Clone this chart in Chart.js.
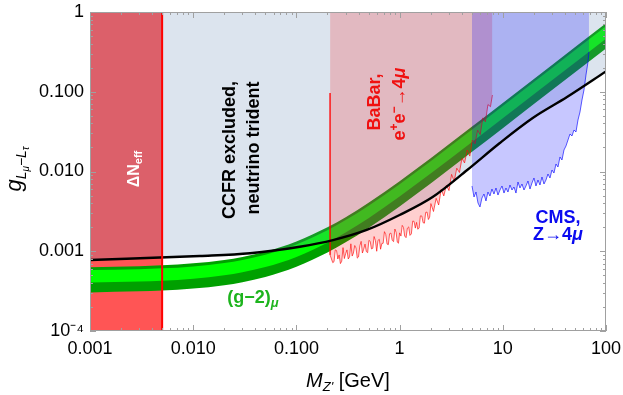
<!DOCTYPE html>
<html lang="en">
<head>
<meta charset="UTF-8">
<title>L_mu - L_tau Z' limits</title>
<style>
  html, body { margin: 0; padding: 0; background: #fff; }
  #wrap { width: 623px; height: 395px; }
</style>
</head>
<body>
<div id="wrap"><canvas id="chart" width="623" height="395"></canvas></div>
<script src="https://cdn.jsdelivr.net/npm/chart.js@4.4.0/dist/chart.umd.min.js"></script>
<script>
  // --- values (mass in GeV, coupling g) ---
  const xTickExp = [-3, -2, -1, 0, 1, 2];
  const xTickLabels = ['0.001', '0.010', '0.100', '1', '10', '100'];
  const yTickExp = [-4, -3, -2, -1, 0];
  const yTickLabels = ['10⁻⁴', '0.001', '0.010', '0.100', '1'];

  // Delta N_eff excluded strip
  const neffMass = [0.001, 0.005];
  const neffTop = [1, 1];

  // (g-2)_mu band
  const bandMass = [0.001, 0.003, 0.005, 0.01, 0.02, 0.03, 0.05, 0.1, 0.2, 0.3, 0.5, 1, 2, 5, 10, 30, 100];
  const bandOuterTop = [6.32e-4, 6.50e-4, 6.66e-4, 7.05e-4, 7.79e-4, 8.50e-4, 9.87e-4, 1.325e-3, 1.998e-3, 2.678e-3, 4.06e-3, 7.57e-3, 1.467e-2, 3.63e-2, 7.24e-2, 0.217, 0.722];
  const bandInnerTop = [5.80e-4, 5.96e-4, 6.10e-4, 6.46e-4, 7.14e-4, 7.79e-4, 9.06e-4, 1.216e-3, 1.833e-3, 2.457e-3, 3.72e-3, 6.94e-3, 1.346e-2, 3.33e-2, 6.64e-2, 0.199, 0.662];
  const bandInnerBottom = [4.05e-4, 4.17e-4, 4.27e-4, 4.52e-4, 4.99e-4, 5.45e-4, 6.33e-4, 8.50e-4, 1.282e-3, 1.718e-3, 2.60e-3, 4.85e-3, 9.41e-3, 2.33e-2, 4.64e-2, 0.139, 0.463];
  const bandOuterBottom = [3.05e-4, 3.14e-4, 3.21e-4, 3.40e-4, 3.76e-4, 4.10e-4, 4.77e-4, 6.40e-4, 9.65e-4, 1.293e-3, 1.96e-3, 3.65e-3, 7.08e-3, 1.75e-2, 3.49e-2, 0.105, 0.349];

  // CCFR (neutrino trident) bound, black curve
  const ccfrMass = [0.001, 0.0116, 0.0356, 0.108, 0.226, 0.48, 1.0, 2.09, 4.52, 9.36, 19.5, 41.9, 100];
  const ccfrG = [7.77e-4, 8.72e-4, 9.43e-4, 1.14e-3, 1.38e-3, 1.85e-3, 2.85e-3, 4.79e-3, 1.045e-2, 2.28e-2, 4.69e-2, 8.59e-2, 0.18];

  // BaBar e+e- -> 4mu
  const babarMass = [0.212, 0.212, 0.225, 0.2315, 0.238, 0.245, 0.252, 0.2595, 0.267, 0.275, 0.283, 0.2915, 0.30, 0.309, 0.318, 0.3275,
    0.337, 0.347, 0.357, 0.3675, 0.378, 0.389, 0.40, 0.412, 0.424, 0.436, 0.449, 0.4625, 0.476, 0.49, 0.504, 0.519, 0.534, 0.55,
    0.566, 0.583, 0.60, 0.618, 0.636, 0.654, 0.673, 0.693, 0.713, 0.734, 0.756, 0.778, 0.80, 0.824, 0.848, 0.874, 0.90, 0.925,
    0.95, 0.975, 1.0, 1.03, 1.06, 1.09, 1.12, 1.155, 1.19, 1.225, 1.26, 1.30, 1.34, 1.38, 1.42, 1.46, 1.50, 1.545, 1.59, 1.64,
    1.69, 1.74, 1.79, 1.845, 1.90, 1.955, 2.01, 2.13, 2.26, 2.39, 2.53, 2.68, 2.84, 3.01, 3.19, 3.38, 3.58, 3.80, 4.02, 4.26,
    4.52, 4.79, 5.07, 5.38, 5.70, 6.04, 6.40, 6.78, 7.18, 7.60, 7.93];
  const babarG = [0.0964, 9.0e-4, 7.2e-4, 7.4e-4, 1.04e-3, 1.02e-3, 8.0e-4, 9.0e-4, 7.0e-4, 7.5e-4, 1.11e-3, 8.1e-4, 9.3e-4, 1.04e-3, 8.0e-4, 8.5e-4,
    1.24e-3, 8.7e-4, 9.5e-4, 1.18e-3, 1.10e-3, 8.2e-4, 8.5e-4, 1.17e-3, 1.33e-3, 9.5e-4, 1.06e-3, 1.23e-3, 9.9e-4, 9.6e-4, 1.37e-3, 1.33e-3, 1.07e-3, 1.09e-3,
    1.53e-3, 1.36e-3, 1.0e-3, 1.37e-3, 1.41e-3, 1.06e-3, 1.25e-3, 1.26e-3, 1.76e-3, 1.62e-3, 1.23e-3, 1.21e-3, 1.66e-3, 1.69e-3, 1.37e-3, 1.32e-3, 1.90e-3, 1.73e-3,
    1.30e-3, 1.26e-3, 1.70e-3, 1.55e-3, 2.11e-3, 1.99e-3, 1.55e-3, 1.48e-3, 1.95e-3, 2.02e-3, 1.58e-3, 1.65e-3, 2.39e-3, 2.37e-3, 1.95e-3, 2.30e-3, 1.89e-3, 1.95e-3, 2.78e-3, 2.77e-3,
    2.28e-3, 2.25e-3, 3.07e-3, 3.10e-3, 2.5e-3, 2.67e-3, 3.96e-3, 3.15e-3, 4.61e-3, 3.80e-3, 5.96e-3, 4.94e-3, 6.72e-3, 5.76e-3, 9.2e-3, 7.5e-3, 1.10e-2, 9.7e-3, 1.46e-2, 1.28e-2,
    1.86e-2, 1.56e-2, 2.48e-2, 2.23e-2, 3.29e-2, 2.9e-2, 4.7e-2, 4.2e-2, 6.9e-2, 6.5e-2, 9.1e-2];

  // CMS Z -> 4mu
  const cmsMass = [5.03, 5.26, 5.50, 5.75, 6.01, 6.28, 6.57, 6.87, 7.18, 7.51, 7.85, 8.21, 8.59, 8.98, 9.39, 9.82, 10.27, 10.73, 11.22, 11.74,
    12.27, 12.83, 13.42, 14.03, 14.67, 15.34, 16.04, 16.77, 17.54, 18.34, 19.17, 20.05, 20.96, 21.92, 22.92, 23.97, 25.06, 26.20, 27.40, 28.65,
    29.96, 31.33, 32.76, 34.25, 35.81, 37.45, 39.16, 40.94, 42.81, 44.77, 46.81, 48.95, 51.18, 53.52, 55.96, 58.51, 61.18, 63.98, 66.90, 68.4];
  const cmsG = [6.58e-3, 4.79e-3, 5.53e-3, 4.03e-3, 3.59e-3, 4.65e-3, 5.22e-3, 4.27e-3, 5.53e-3, 4.93e-3, 6.03e-3, 5.22e-3, 6.21e-3, 5.07e-3, 5.86e-3, 6.58e-3, 5.37e-3, 6.21e-3, 5.53e-3, 6.77e-3,
    5.86e-3, 6.39e-3, 5.37e-3, 7.38e-3, 6.21e-3, 6.97e-3, 5.86e-3, 6.58e-3, 7.60e-3, 6.03e-3, 7.17e-3, 8.29e-3, 6.58e-3, 7.82e-3, 6.77e-3, 8.53e-3, 6.97e-3, 7.82e-3, 9.30e-3, 8.29e-3,
    1.044e-2, 9.57e-3, 1.242e-2, 1.139e-2, 1.520e-2, 1.394e-2, 1.861e-2, 2.088e-2, 2.483e-2, 2.953e-2, 2.787e-2, 3.315e-2, 3.13e-2, 4.42e-2, 5.57e-2, 7.88e-2, 0.1052, 0.1622, 0.236, 0.315];

  // BBN line position
  const neffEdge = [0.005, 0.005];
  const neffEdgeG = [1e-4, 1];

  const FONT = '"Liberation Sans", Arial, Helvetica, sans-serif';
  const pts = (xs, ys) => xs.map((x, i) => ({ x, y: ys[i] }));

  const decadeLabel = (v, exps, labels) => {
    const l = Math.log10(v);
    const r = Math.round(l);
    if (Math.abs(l - r) > 1e-6) return '';
    const i = exps.indexOf(r);
    return i < 0 ? '' : labels[i];
  };

  const datasets = [
    { label: 'dNeff', data: pts(neffMass, neffTop), fill: 'start', backgroundColor: '#ff5555', borderWidth: 0, order: 9 },
    { label: 'g2 outer', data: pts(bandMass, bandOuterTop), fill: 2, backgroundColor: '#00a000', borderWidth: 0, cubicInterpolationMode: 'monotone', order: 8 },
    { label: 'g2 outer low', data: pts(bandMass, bandOuterBottom), fill: false, borderWidth: 0, cubicInterpolationMode: 'monotone', order: 8 },
    { label: 'g2 inner', data: pts(bandMass, bandInnerTop), fill: 4, backgroundColor: '#00ff00', borderWidth: 0, cubicInterpolationMode: 'monotone', order: 7 },
    { label: 'g2 inner low', data: pts(bandMass, bandInnerBottom), fill: false, borderWidth: 0, cubicInterpolationMode: 'monotone', order: 7 },
    { label: 'CCFR', data: pts(ccfrMass, ccfrG), fill: 'end', backgroundColor: 'rgba(99,134,179,0.224)', borderWidth: 0, cubicInterpolationMode: 'monotone', order: 6 },
    { label: 'BaBar', data: pts(babarMass, babarG), fill: 'end', backgroundColor: 'rgba(255,0,0,0.19)', borderColor: 'rgba(255,0,0,0.9)', borderWidth: 0.7, order: 5 },
    { label: 'CMS', data: pts(cmsMass, cmsG), fill: 'end', backgroundColor: 'rgba(0,0,255,0.22)', borderColor: 'rgba(0,0,255,0.8)', borderWidth: 0.8, order: 4 },
    { label: 'CCFR line', data: pts(ccfrMass, ccfrG), fill: false, borderColor: '#000', borderWidth: 2.4, cubicInterpolationMode: 'monotone', order: 1 },
    { label: 'BBN edge', data: pts(neffEdge, neffEdgeG), fill: false, borderColor: '#ff0000', borderWidth: 2, order: 0 }
  ];

  // draws rich text (sub/superscripts), centred on (x, y) along the baseline
  function rich(ctx, parts, x, y, angle) {
    ctx.save();
    ctx.translate(x, y);
    ctx.rotate(angle || 0);
    ctx.textAlign = 'left';
    ctx.textBaseline = 'alphabetic';
    let total = 0;
    parts.forEach(p => { ctx.font = p.f; p.w = ctx.measureText(p.t).width; total += p.w; });
    let cx = -total / 2;
    parts.forEach(p => {
      ctx.font = p.f;
      ctx.fillText(p.t, cx, p.dy || 0);
      cx += p.w;
    });
    ctx.restore();
  }

  const frameAndText = {
    id: 'frameAndText',
    afterDatasetsDraw(chart) {
      const { ctx, chartArea: a, scales: { x, y } } = chart;
      ctx.save();

      // frame with inward ticks on all four sides
      ctx.strokeStyle = '#a0a0a0';
      ctx.lineWidth = 1;
      ctx.strokeRect(a.left + 0.5, a.top + 0.5, a.right - a.left - 1, a.bottom - a.top - 1);
      ctx.beginPath();
      for (let d = -3; d <= 2; d++) {
        for (let k = 1; k <= 9; k++) {
          const v = k * Math.pow(10, d);
          if (v > 100.0001) break;
          const px = Math.round(x.getPixelForValue(v)) + 0.5;
          const len = k === 1 ? 6 : 3;
          ctx.moveTo(px, a.bottom); ctx.lineTo(px, a.bottom - len);
          ctx.moveTo(px, a.top); ctx.lineTo(px, a.top + len);
        }
      }
      for (let d = -4; d <= 0; d++) {
        for (let k = 1; k <= 9; k++) {
          const v = k * Math.pow(10, d);
          if (v > 1.0001) break;
          const py = Math.round(y.getPixelForValue(v)) + 0.5;
          const len = k === 1 ? 6 : 3;
          ctx.moveTo(a.left, py); ctx.lineTo(a.left + len, py);
          ctx.moveTo(a.right, py); ctx.lineTo(a.right - len, py);
        }
      }
      ctx.stroke();

      const up = -Math.PI / 2;
      const B18 = 'bold 18px ' + FONT;

      // Delta N_eff
      ctx.fillStyle = '#ffffff';
      rich(ctx, [
        { t: 'ΔN', f: 'bold 16px ' + FONT },
        { t: 'eff', f: 'bold 11px ' + FONT, dy: 3 }
      ], 139, 169, up);

      // CCFR
      ctx.fillStyle = '#000000';
      rich(ctx, [{ t: 'CCFR excluded,', f: B18 }], 235, 150, up);
      rich(ctx, [{ t: 'neutrino trident', f: B18 }], 259, 148, up);

      // BaBar
      ctx.fillStyle = '#f01010';
      rich(ctx, [{ t: 'BaBar,', f: B18 }], 380, 102, up);
      rich(ctx, [
        { t: 'e', f: B18 },
        { t: '+', f: 'bold 12px ' + FONT, dy: -7 },
        { t: 'e', f: B18 },
        { t: '−', f: 'bold 12px ' + FONT, dy: -7 },
        { t: '→4', f: B18 },
        { t: 'μ', f: 'italic bold 18px ' + FONT }
      ], 405, 104, up);

      // CMS
      ctx.fillStyle = '#0a0af0';
      rich(ctx, [{ t: 'CMS,', f: B18 }], 558, 223, 0);
      rich(ctx, [
        { t: 'Z→4', f: B18 },
        { t: 'μ', f: 'italic bold 18px ' + FONT }
      ], 558, 240, 0);

      // (g-2)_mu
      ctx.fillStyle = '#1db41d';
      rich(ctx, [
        { t: '(g−2)', f: B18 },
        { t: 'μ', f: 'italic bold 13px ' + FONT, dy: 4 }
      ], 253, 303, 0);

      // axis titles
      ctx.fillStyle = '#000000';
      rich(ctx, [
        { t: 'g', f: 'italic 22px ' + FONT },
        { t: 'L', f: 'italic 14px ' + FONT, dy: 5 },
        { t: 'μ', f: 'italic 10px ' + FONT, dy: 8 },
        { t: '−', f: '14px ' + FONT, dy: 5 },
        { t: 'L', f: 'italic 14px ' + FONT, dy: 5 },
        { t: 'τ', f: 'italic 10px ' + FONT, dy: 8 }
      ], 21, 169, up);
      rich(ctx, [
        { t: 'M', f: 'italic 20px ' + FONT },
        { t: "Z'", f: 'italic 13px ' + FONT, dy: 4 },
        { t: ' [GeV]', f: '20px ' + FONT }
      ], 348, 387, 0);

      ctx.restore();
    }
  };

  // keep the plot box fixed: no extra room for overhanging tick labels
  const fixPadding = s => {
    s.paddingLeft = 0; s.paddingRight = 0; s.paddingTop = 0; s.paddingBottom = 0;
  };

  new Chart(document.getElementById('chart'), {
    type: 'line',
    data: { datasets },
    options: {
      responsive: false,
      animation: false,
      devicePixelRatio: 1,
      layout: { padding: { top: 12, right: 17, left: 0, bottom: 0 } },
      elements: { point: { radius: 0 } },
      plugins: { legend: { display: false }, tooltip: { enabled: false } },
      scales: {
        x: {
          type: 'logarithmic', min: 0.001, max: 100,
          grid: { display: false, drawTicks: false },
          border: { display: false },
          ticks: {
            autoSkip: false, maxRotation: 0, padding: 7, color: '#000',
            font: { family: FONT, size: 18 },
            callback: v => decadeLabel(v, xTickExp, xTickLabels)
          },
          afterFit: s => { s.height = 64; fixPadding(s); }
        },
        y: {
          type: 'logarithmic', min: 1e-4, max: 1,
          grid: { display: false, drawTicks: false },
          border: { display: false },
          ticks: {
            autoSkip: false, padding: 6, color: '#000',
            font: { family: FONT, size: 18 },
            callback: v => decadeLabel(v, yTickExp, yTickLabels)
          },
          afterFit: s => { s.width = 90; fixPadding(s); }
        }
      }
    },
    plugins: [frameAndText]
  });
</script>
</body>
</html>
